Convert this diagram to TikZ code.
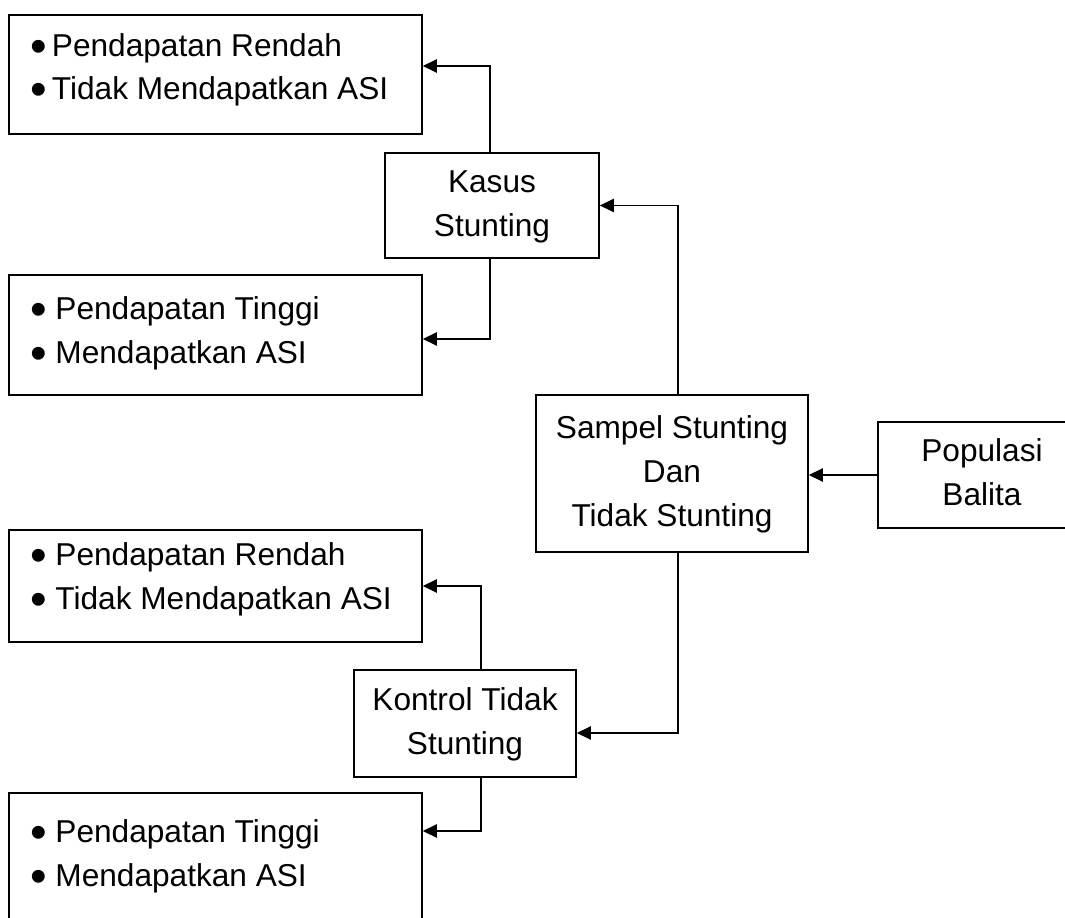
\documentclass[tikz,border=0pt]{standalone}
\usepackage{fontspec}
\setmainfont{Liberation Sans}
\usetikzlibrary{arrows.meta}
\newcommand{\bulletmark}{\raisebox{-0.19em}{\scalebox{1.5}{•}}}

\begin{document}
\begin{tikzpicture}[x=0.02cm, y=-0.02cm]
        \tikzstyle{every node}=[rectangle, draw=black, line width=0.9pt, inner sep=2pt, font=\fontsize{18}{25}\selectfont, text=black]
        \tikzstyle{list}=[inner xsep=0.42cm, minimum width=8.26cm]
        \tikzstyle{edge}=[black, line width=0.9pt, -{Triangle[length=8pt, width=7.5pt]}]

        \clip (0,0) rectangle (1065,918);
        \useasboundingbox (0,0) rectangle (1065,918);

        \node[list, minimum height=2.38cm] (lowA) at (215.5,74.5) {\begin{tabular}{@{}p{7.42cm}@{}} \bulletmark\,Pendapatan Rendah \\ \bulletmark\,Tidak Mendapatkan ASI \\[6pt] \end{tabular}};
        \node[minimum width=4.28cm, minimum height=2.1cm] (kasus) at (492,205.5) {\begin{tabular}{c} Kasus \\ Stunting \end{tabular}};
        \node[list, minimum height=2.4cm] (highA) at (215.5,335) {\begin{tabular}{@{}p{7.42cm}@{}} \bulletmark\ Pendapatan Tinggi \\ \bulletmark\ Mendapatkan ASI \\[3pt] \end{tabular}};

        \node[minimum width=5.44cm, minimum height=3.14cm] (sampel) at (672,473.5) {\begin{tabular}{c} Sampel Stunting \\ Dan \\ Tidak Stunting \end{tabular}};
        \node[minimum width=4.16cm, minimum height=2.12cm] (populasi) at (982,475) {\begin{tabular}{c} Populasi \\ Balita \end{tabular}};

        \node[list, minimum height=2.24cm] (lowB) at (215.5,586) {\begin{tabular}{@{}p{7.42cm}@{}} \bulletmark\ Pendapatan Rendah \\ \bulletmark\ Tidak Mendapatkan ASI \\[8pt] \end{tabular}};
        \node[minimum width=4.44cm, minimum height=2.14cm] (kontrol) at (465,723.5) {\begin{tabular}{c} Kontrol Tidak \\ Stunting \end{tabular}};
        \node[list, minimum height=2.52cm] (highB) at (215.5,856) {\begin{tabular}{@{}p{7.42cm}@{}} \bulletmark\ Pendapatan Tinggi \\ \bulletmark\ Mendapatkan ASI \end{tabular}};

        \draw[edge] (populasi.west) -- (populasi.west -| sampel.east);
        \draw[edge] ([xshift=0.12cm]sampel.north) |- (kasus.east);
        \draw[edge] ([xshift=0.12cm]sampel.south) |- ([yshift=-0.19cm]kontrol.east);

        \draw[edge] ([xshift=-0.04cm]kasus.north) |- ([yshift=0.17cm]lowA.east);
        \draw[edge] ([xshift=-0.04cm]kasus.south) |- ([yshift=-0.08cm]highA.east);
        \draw[edge] ([xshift=0.32cm]kontrol.north) |- (lowB.east);
        \draw[edge] ([xshift=0.32cm]kontrol.south) |- ([yshift=0.5cm]highB.east);
\end{tikzpicture}
\end{document}
